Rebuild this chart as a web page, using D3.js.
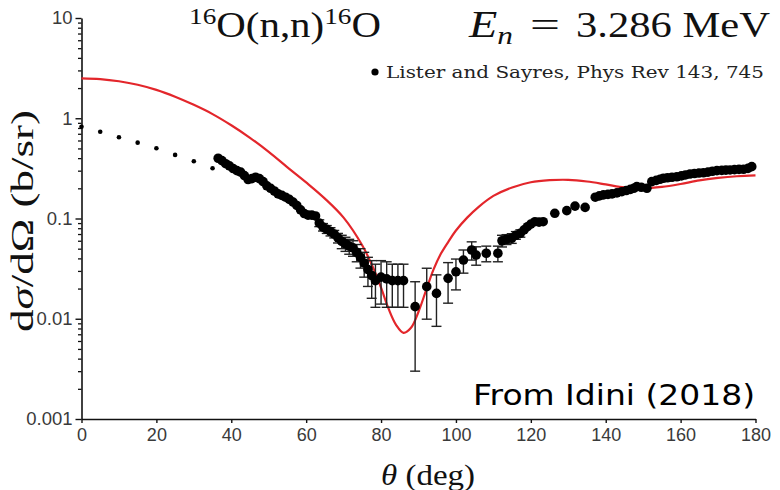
<!DOCTYPE html>
<html>
<head>
<meta charset="utf-8">
<script src="https://cdn.jsdelivr.net/npm/d3@7"></script>
<style>
  html, body { margin: 0; padding: 0; background: #fff; }
  svg { display: block; }
</style>
</head>
<body>
<svg id="chart" width="780" height="490"></svg>
<script>
// Measured angles (deg), cross sections (b/sr) and their uncertainties
const expTheta = [36.5, 37.5, 38.5, 39.5, 40.5, 41.5, 42.5, 43.5, 44.5, 45.5, 46.5, 47.5, 48.5, 49.5, 50.5,
  51.5, 52.5, 53.5, 54.5, 55.5, 56.5, 57.5, 58.5, 59.5, 60.5, 61.5, 62.5, 63.5, 64.5, 65.5, 66.5,
  67.5, 68.5, 69.5, 70.5, 71.5, 72.5, 73.5, 74.5, 75.5, 76.5, 77.5, 78.5, 80.0, 81.5, 83.0, 84.5,
  86.0, 89.1, 92.2, 94.8, 97.9, 100.0, 102.0, 104.2, 105.4, 108.1, 111.2, 112.3, 113.5, 114.9, 116.0,
  117.2, 118.2, 119.1, 120.0, 121.1, 122.2, 123.3, 126.4, 129.6, 131.8, 134.5, 137.2, 138.3, 139.4,
  140.6, 141.7, 143.0, 144.3, 145.5, 146.6, 147.5, 148.3, 149.5, 151.0, 152.3, 153.5, 154.5, 155.4,
  156.5, 157.7, 159.0, 160.2, 161.3, 162.5, 163.7, 164.9, 166.1, 167.3, 168.5, 169.7, 171.0, 172.1,
  173.2, 174.4, 175.6, 176.8, 178.0, 179.0];
const expSigma = [0.399, 0.378, 0.352, 0.335, 0.315, 0.300, 0.290, 0.268, 0.245, 0.250, 0.258, 0.250, 0.233, 0.212, 0.200,
  0.188, 0.176, 0.170, 0.163, 0.155, 0.146, 0.135, 0.122, 0.112, 0.108, 0.108, 0.106, 0.090, 0.082, 0.078, 0.074,
  0.070, 0.064, 0.059, 0.056, 0.053, 0.051, 0.046, 0.041, 0.036, 0.031, 0.027, 0.024, 0.026, 0.025, 0.024, 0.024,
  0.024, 0.0132, 0.0209, 0.0179, 0.0253, 0.0294, 0.0385, 0.0485, 0.0432, 0.045, 0.045, 0.060, 0.062, 0.0635, 0.068,
  0.0711, 0.077, 0.0828, 0.088, 0.0929, 0.092, 0.0929, 0.1127, 0.1197, 0.133, 0.129, 0.163, 0.168, 0.172,
  0.174, 0.176, 0.180, 0.185, 0.190, 0.195, 0.200, 0.208, 0.205, 0.200, 0.233, 0.240, 0.246, 0.252,
  0.255, 0.258, 0.261, 0.266, 0.272, 0.278, 0.281, 0.284, 0.286, 0.290, 0.296, 0.300, 0.302, 0.304,
  0.305, 0.307, 0.309, 0.310, 0.316, 0.329];
const expError = [0, 0, 0, 0, 0, 0, 0, 0, 0, 0, 0, 0, 0, 0, 0,
  0, 0, 0, 0, 0, 0, 0, 0, 0, 0, 0, 0, 0.007, 0.007, 0.007, 0.007,
  0.006, 0.007, 0.009, 0.009, 0.009, 0.009, 0.009, 0.009, 0.010, 0.010, 0.011, 0.011, 0.012, 0.012, 0.011, 0.011,
  0.011, 0.0102, 0.011, 0.0095, 0.011, 0.010, 0.010, 0.010, 0.009, 0.008, 0.008, 0.008, 0.007, 0.007, 0.006,
  0.006, 0, 0, 0, 0, 0, 0, 0, 0, 0, 0, 0, 0, 0,
  0, 0, 0, 0, 0, 0, 0, 0, 0, 0, 0, 0, 0, 0,
  0, 0, 0, 0, 0, 0, 0, 0, 0, 0, 0, 0, 0, 0,
  0, 0, 0, 0, 0, 0];

// Forward-angle points drawn as small dots
const fwdTheta = [0, 5, 10, 15, 20, 25, 30, 35];
const fwdSigma = [0.823, 0.734, 0.646, 0.571, 0.502, 0.431, 0.372, 0.317];

// Calculated angular distribution
const calcTheta = [0, 5, 10, 15, 20, 25, 30, 35, 40, 45, 50, 55, 60, 65, 70, 75, 78, 80, 82, 84, 86, 88,
  90, 92, 94, 96, 98, 100, 103, 106, 110, 115, 120, 125, 130, 135, 140, 145, 150, 155, 160, 165, 170, 175, 180];
const calcSigma = [2.50, 2.46, 2.34, 2.16, 1.92, 1.64, 1.36, 1.10, 0.851, 0.638, 0.462, 0.324, 0.229, 0.158,
  0.102, 0.0537, 0.0316, 0.0204, 0.0126, 0.0087, 0.00724, 0.00813, 0.01175, 0.0191, 0.0309, 0.0447, 0.0589,
  0.0759, 0.102, 0.130, 0.168, 0.204, 0.230, 0.241, 0.243, 0.234, 0.219, 0.204, 0.1995, 0.2065, 0.221, 0.240,
  0.254, 0.264, 0.269];

const xTickValues = [0, 20, 40, 60, 80, 100, 120, 140, 160, 180];
const yTickValues = [0.001, 0.01, 0.1, 1, 10];
const yTickLabels = ["0.001", "0.01", "0.1", "1", "10"];

const svg = d3.select("#chart");
const x = d3.scaleLinear().domain([0, 180]).range([81.5, 755.5]);
const y = d3.scaleLog().domain([0.001, 10]).range([419, 18]);

const serif = "Liberation Serif, Times New Roman, serif";

// Axes
const xAxis = d3.axisBottom(x).tickValues(xTickValues).tickSize(4).tickSizeOuter(0).tickPadding(5);
const gx = svg.append("g").attr("transform", `translate(0,${y(0.001)})`).call(xAxis);
gx.select(".domain").attr("stroke", "#111").attr("stroke-width", 1.6);
gx.selectAll(".tick line").attr("stroke", "#111").attr("stroke-width", 1.4);
gx.selectAll(".tick text").attr("font-family", "Liberation Sans, Arial, sans-serif")
  .attr("font-size", 18).attr("fill", "#3a3a3a");

const minorTicks = [];
for (let e = -3; e < 1; e++) for (let m = 2; m <= 9; m++) minorTicks.push(m * Math.pow(10, e));

const yAxis = d3.axisLeft(y).tickValues(yTickValues)
  .tickFormat((d, i) => yTickLabels[i]).tickSize(6).tickSizeOuter(0).tickPadding(3);
const gy = svg.append("g").attr("transform", `translate(${x(0)},0)`).call(yAxis);
gy.select(".domain").attr("stroke", "#111").attr("stroke-width", 1.6);
gy.selectAll(".tick line").attr("stroke", "#111").attr("stroke-width", 1.4);
gy.selectAll(".tick text").attr("font-family", "Liberation Sans, Arial, sans-serif")
  .attr("font-size", 18.5).attr("fill", "#3a3a3a");

const yMinor = d3.axisLeft(y).tickValues(minorTicks).tickFormat("").tickSize(3.5).tickSizeOuter(0);
const gym = svg.append("g").attr("transform", `translate(${x(0)},0)`).call(yMinor);
gym.select(".domain").remove();
gym.selectAll(".tick line").attr("stroke", "#111").attr("stroke-width", 1.3);

// Calculated curve
const line = d3.line()
  .x((d, i) => x(calcTheta[i]))
  .y((d, i) => y(calcSigma[i]))
  .curve(d3.curveCatmullRom.alpha(0.5));
svg.append("path").datum(calcTheta).attr("d", line)
  .attr("fill", "none").attr("stroke", "#e3262b").attr("stroke-width", 2.2);

// Small forward-angle dots
svg.append("g").selectAll("circle").data(fwdTheta).join("circle")
  .attr("cx", d => x(d)).attr("cy", (d, i) => y(fwdSigma[i])).attr("r", 2.3).attr("fill", "#000");

// Error bars
const eb = svg.append("g").attr("stroke", "#222").attr("stroke-width", 1.4);
expTheta.forEach((t, i) => {
  const err = expError[i];
  if (!err) return;
  const lo = Math.max(expSigma[i] - err, 0.0011), hi = expSigma[i] + err;
  const cx = x(t);
  eb.append("line").attr("x1", cx).attr("x2", cx).attr("y1", y(lo)).attr("y2", y(hi));
  eb.append("line").attr("x1", cx - 5).attr("x2", cx + 5).attr("y1", y(lo)).attr("y2", y(lo));
  eb.append("line").attr("x1", cx - 5).attr("x2", cx + 5).attr("y1", y(hi)).attr("y2", y(hi));
});

// Measured points
svg.append("g").selectAll("circle").data(expTheta).join("circle")
  .attr("cx", d => x(d)).attr("cy", (d, i) => y(expSigma[i])).attr("r", 4.8).attr("fill", "#000");

// Title: reaction
const title = svg.append("text").attr("x", 189).attr("y", 37)
  .attr("font-family", serif).attr("font-size", 36).attr("fill", "#111")
  .attr("textLength", 192).attr("lengthAdjust", "spacingAndGlyphs");
title.append("tspan").attr("font-size", 24).attr("dy", -13).text("16");
title.append("tspan").attr("dy", 13).text("O(n,n)");
title.append("tspan").attr("font-size", 24).attr("dy", -13).text("16");
title.append("tspan").attr("dy", 13).text("O");

// Title: incident energy
const eSym = svg.append("text").attr("x", 469).attr("y", 37)
  .attr("font-family", serif).attr("font-size", 37).attr("fill", "#111").attr("font-style", "italic")
  .attr("textLength", 44).attr("lengthAdjust", "spacingAndGlyphs");
eSym.append("tspan").text("E");
eSym.append("tspan").attr("font-size", 25).attr("dy", 7).text("n");
svg.append("text").attr("x", 545).attr("y", 37).attr("text-anchor", "middle")
  .attr("font-family", serif).attr("font-size", 36).attr("fill", "#111")
  .attr("textLength", 30).attr("lengthAdjust", "spacingAndGlyphs").text("=");
svg.append("text").attr("x", 576).attr("y", 37)
  .attr("font-family", serif).attr("font-size", 36).attr("fill", "#111")
  .attr("textLength", 194).attr("lengthAdjust", "spacingAndGlyphs").text("3.286 MeV");

// Legend
svg.append("circle").attr("cx", 375).attr("cy", 72).attr("r", 3.6).attr("fill", "#000");
svg.append("text").attr("x", 386).attr("y", 78)
  .attr("font-family", "DejaVu Serif, serif").attr("font-size", 16.5).attr("fill", "#222")
  .attr("textLength", 378).attr("lengthAdjust", "spacingAndGlyphs")
  .text("Lister and Sayres, Phys Rev 143, 745");

// Axis titles
const ylab = svg.append("text").attr("transform", "translate(33,221) rotate(-90)")
  .attr("text-anchor", "middle")
  .attr("font-family", serif).attr("font-size", 32).attr("fill", "#111")
  .attr("textLength", 222).attr("lengthAdjust", "spacingAndGlyphs");
ylab.append("tspan").text("d");
ylab.append("tspan").attr("font-style", "italic").text("σ");
ylab.append("tspan").text("/dΩ (b/sr)");

const xlab = svg.append("text").attr("x", 428).attr("y", 485)
  .attr("text-anchor", "middle")
  .attr("font-family", serif).attr("font-size", 30).attr("fill", "#111")
  .attr("textLength", 94).attr("lengthAdjust", "spacingAndGlyphs");
xlab.append("tspan").attr("font-style", "italic").text("θ");
xlab.append("tspan").text(" (deg)");

// Source note
svg.append("text").attr("x", 473).attr("y", 405)
  .attr("font-family", "Comic Sans MS, DejaVu Sans, sans-serif").attr("font-size", 29).attr("fill", "#000")
  .attr("textLength", 282).attr("lengthAdjust", "spacingAndGlyphs")
  .text("From Idini (2018)");
</script>
</body>
</html>
